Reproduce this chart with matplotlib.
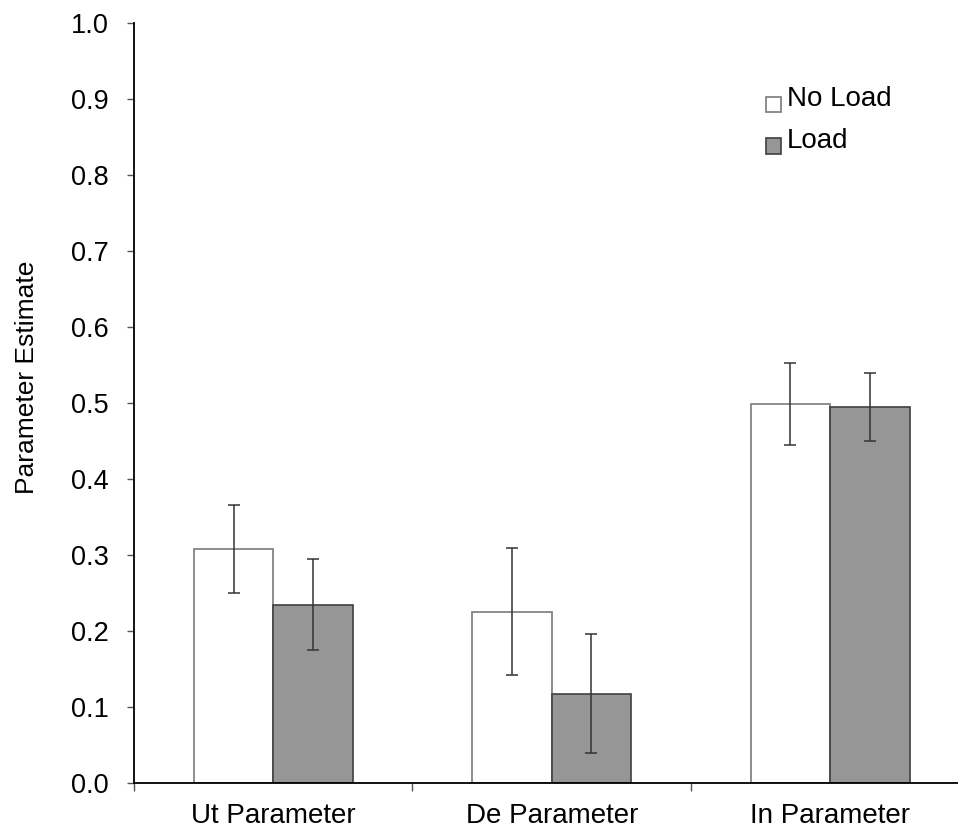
import matplotlib

matplotlib.use("Agg")

import matplotlib.pyplot as plt
import numpy as np
from matplotlib.container import BarContainer
from matplotlib.legend_handler import HandlerPatch, update_from_first_child
from matplotlib.patches import Rectangle


CATEGORIES = ["Ut Parameter", "De Parameter", "In Parameter"]
NO_LOAD = [0.308, 0.225, 0.498]
NO_LOAD_ERR = [0.058, 0.084, 0.054]
LOAD = [0.234, 0.117, 0.494]
LOAD_ERR = [0.060, 0.078, 0.045]
Y_TICKS = [0.0, 0.1, 0.2, 0.3, 0.4, 0.5, 0.6, 0.7, 0.8, 0.9, 1.0]

plt.rcParams["font.family"] = ["Liberation Sans", "DejaVu Sans"]


def shifted_square(legend, orig_handle, xdescent, ydescent, width, height, fontsize):
    """Legend swatch that sits a little lower, near the text baseline."""

    return Rectangle((-xdescent, -ydescent - 0.29 * fontsize), width, width)


fig = plt.figure(figsize=(9.58, 8.33), dpi=100)
axis = fig.add_axes([0.1399, 0.0606, 0.872, 0.9118])

x = np.arange(len(CATEGORIES)) + 0.5
width = 0.285

error_style = dict(ecolor="#333333", elinewidth=1.1, capsize=4.5, capthick=1.1)

axis.bar(
    x - width / 2,
    NO_LOAD,
    width,
    yerr=NO_LOAD_ERR,
    color="white",
    edgecolor="#7a7a7a",
    linewidth=1.2,
    label="No Load",
    error_kw=error_style,
)
axis.bar(
    x + width / 2,
    LOAD,
    width,
    yerr=LOAD_ERR,
    color="#969696",
    edgecolor="#404040",
    linewidth=1.2,
    label="Load",
    error_kw=error_style,
)

axis.set_xlim(0, 3)
axis.set_ylim(0, 1.0)
axis.set_yticks(Y_TICKS)
axis.set_yticklabels([f"{v:.1f}" for v in Y_TICKS], fontsize=19.5)
axis.set_xticks([0, 1, 2, 3])
axis.set_xticklabels([])
axis.set_xticks(x, minor=True)
axis.set_xticklabels(CATEGORIES, minor=True, fontsize=20)
axis.tick_params(axis="x", which="minor", length=0, pad=15)
axis.tick_params(axis="x", which="major", length=5.8, width=1, color="#555555")
axis.tick_params(axis="y", length=5, width=1, color="#555555", pad=13)
axis.set_ylabel("Parameter Estimate", fontsize=19)
axis.yaxis.set_label_coords(-0.114, 0.534)

for side in ["top", "right"]:
    axis.spines[side].set_visible(False)
for side in ["left", "bottom"]:
    axis.spines[side].set_linewidth(1.3)

axis.legend(
    loc="upper left",
    bbox_to_anchor=(0.7396, 0.935),
    frameon=False,
    fontsize=20,
    handlelength=0.565,
    handleheight=0.49,
    handletextpad=0.2,
    labelspacing=0.55,
    borderpad=0,
    handler_map={
        BarContainer: HandlerPatch(
            patch_func=shifted_square,
            update_func=update_from_first_child,
        )
    },
)

fig.savefig("out.png", dpi=100)
plt.close(fig)
